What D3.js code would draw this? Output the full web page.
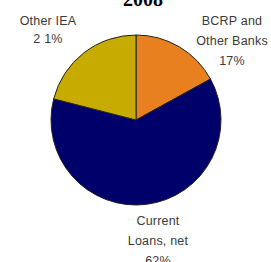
<!DOCTYPE html>
<html>
<head>
<meta charset="utf-8">
<script src="https://cdn.jsdelivr.net/npm/d3@7"></script>
<style>
  body { margin: 0; background: #fff; }
  text { font-family: "Liberation Sans", Arial, sans-serif; }
</style>
</head>
<body>
<svg width="271" height="262"></svg>
<script>
// slices, clockwise from 12 o'clock
const categories = ['BCRP and Other Banks', 'Current Loans, net', 'Other IEA'];
const values = [17, 62, 21];
const colors = ['#E8801F', '#00006A', '#C8AB00'];
const labelLines = [
    ['BCRP and', 'Other Banks', '17%'],
    ['Current', 'Loans, net', '62%'],
    ['Other IEA', '2 1%']
];
const labelPos = [[232, 25, 20], [158, 225, 20], [48, 25, 18]];

const svg = d3.select('svg');

svg.append('text')
    .attr('x', 143)
    .attr('y', 6)
    .attr('text-anchor', 'middle')
    .style('font-family', '"Liberation Serif", "Times New Roman", serif')
    .style('font-weight', 'bold')
    .style('font-size', '20px')
    .text('2008');

const pie = d3.pie().sort(null).value(d => d);
const arc = d3.arc().innerRadius(0).outerRadius(85);

const g = svg.append('g').attr('transform', 'translate(136,120)');

g.selectAll('path')
    .data(pie(values))
    .enter()
    .append('path')
    .attr('d', arc)
    .attr('fill', (d, i) => colors[i])
    .attr('stroke', '#222')
    .attr('stroke-width', 1);

const labels = svg.selectAll('text.lbl')
    .data(labelLines)
    .enter()
    .append('text')
    .attr('class', 'lbl')
    .attr('text-anchor', 'middle')
    .attr('fill', '#3a3a3a')
    .style('font-size', '12.5px')
    .style('letter-spacing', '0.2px');

labels.selectAll('tspan')
    .data((d, i) => d.map(t => ({ t: t, p: labelPos[i] })))
    .enter()
    .append('tspan')
    .attr('x', d => d.p[0])
    .attr('y', (d, j) => d.p[1] + j * d.p[2])
    .text(d => d.t);
</script>
</body>
</html>
